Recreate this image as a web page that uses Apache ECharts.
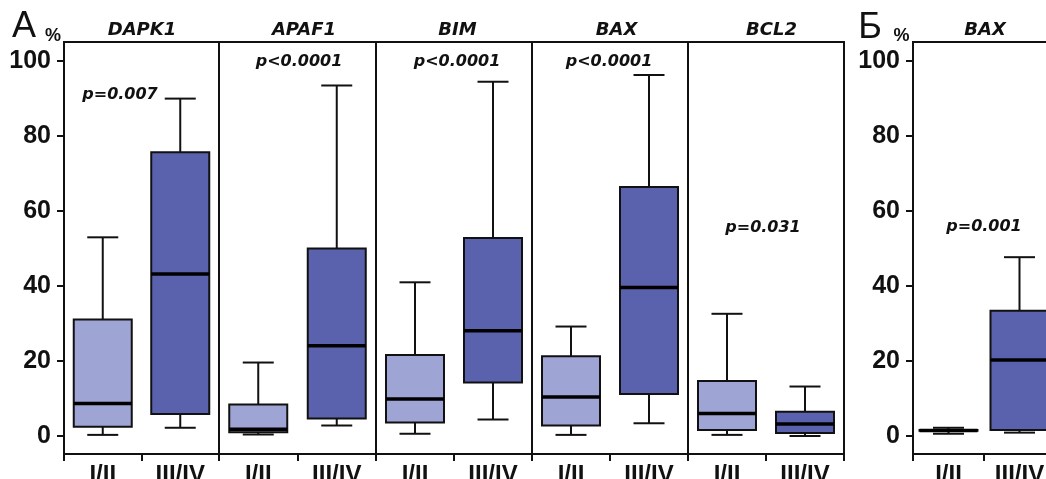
<!DOCTYPE html>
<html><head><meta charset="utf-8">
<script src="https://cdn.jsdelivr.net/npm/echarts@6/dist/echarts.min.js"></script>
<style>html,body{margin:0;padding:0;background:#fff}#c{width:1046px;height:479px}</style>
</head><body><div id="c"></div>
<script>
// ---- data ----
const categories = ['I/II', 'III/IV'];
const genesA = ['DAPK1', 'APAF1', 'BIM', 'BAX', 'BCL2'];
const geneB = 'BAX';
const yTicks = [0, 20, 40, 60, 80, 100];
// each group: [min, Q1, median, Q3, max]
const DAPK1 = [[0.3, 2.5, 8.7, 31.1, 53.0], [2.2, 5.9, 43.2, 75.7, 90.0]];
const APAF1 = [[0.4, 1.0, 1.8, 8.4, 19.6], [2.8, 4.7, 24.1, 50.0, 93.5]];
const BIM   = [[0.6, 3.6, 9.9, 21.6, 41.0], [4.4, 14.3, 28.1, 52.8, 94.5]];
const BAX   = [[0.3, 2.8, 10.4, 21.3, 29.2], [3.4, 11.2, 39.6, 66.4, 96.3]];
const BCL2  = [[0.3, 1.6, 6.0, 14.7, 32.6], [0.0, 0.8, 3.2, 6.5, 13.2]];
const BAX_B = [[0.6, 1.4, 1.5, 1.6, 2.2], [0.9, 1.6, 20.3, 33.4, 47.7]];
const pValuesA = ['p=0.007', 'p<0.0001', 'p<0.0001', 'p<0.0001', 'p=0.031'];
const pValueB = 'p=0.001';

// ---- layout / style ----
const panelEdges = [64, 219, 376, 532, 688, 844];
const gridTop = 42, gridHeight = 412;
const bLeft = 913, bWidth = 142;
const Y_MIN = -4.8, Y_MAX = 105.1;
const LIGHT = '#9ea4d3', DARK = '#5a62ad', INK = '#111';
const NUM_FONT = "'Liberation Sans Narrow', 'Liberation Sans', Arial, sans-serif";
const TXT_FONT = "'DejaVu Sans', sans-serif";

const allA = [DAPK1, APAF1, BIM, BAX, BCL2];

function renderBox(params, api) {
  const c = api.value(0);
  const pMin = api.coord([c, api.value(1)]);
  const pQ1 = api.coord([c, api.value(2)]);
  const pMed = api.coord([c, api.value(3)]);
  const pQ3 = api.coord([c, api.value(4)]);
  const pMax = api.coord([c, api.value(5)]);
  const x = pMin[0];
  const bw = 58, cw = 31;
  const fill = c === 0 ? LIGHT : DARK;
  const ln = { stroke: INK, lineWidth: 2 };
  return {
    type: 'group', children: [
      { type: 'line', shape: { x1: x, y1: pMax[1], x2: x, y2: pQ3[1] }, style: ln },
      { type: 'line', shape: { x1: x, y1: pQ1[1], x2: x, y2: pMin[1] }, style: ln },
      { type: 'line', shape: { x1: x - cw / 2, y1: pMax[1], x2: x + cw / 2, y2: pMax[1] }, style: ln },
      { type: 'line', shape: { x1: x - cw / 2, y1: pMin[1], x2: x + cw / 2, y2: pMin[1] }, style: ln },
      { type: 'rect', shape: { x: x - bw / 2, y: pQ3[1], width: bw, height: pQ1[1] - pQ3[1] }, style: { fill: fill, stroke: INK, lineWidth: 2 } },
      { type: 'line', shape: { x1: x - bw / 2, y1: pMed[1], x2: x + bw / 2, y2: pMed[1] }, style: { stroke: '#000', lineWidth: 3.5 } }
    ]
  };
}

const grids = [], xAxes = [], yAxes = [], series = [];
function addPanel(i, left, width, groups, showY) {
  grids.push({ left: left, top: gridTop, width: width, height: gridHeight, show: true, borderColor: INK, borderWidth: 2, containLabel: false, outerBoundsMode: 'none' });
  xAxes.push({
    type: 'category', gridIndex: i, data: categories, boundaryGap: true,
    axisLine: { show: true, onZero: false, lineStyle: { color: INK, width: 2 } },
    axisTick: { show: true, length: 7, lineStyle: { color: INK, width: 2 } },
    axisLabel: { interval: 0, fontFamily: NUM_FONT, fontWeight: 'bold', fontSize: 24, color: INK, margin: 9 }
  });
  yAxes.push({
    type: 'value', gridIndex: i, min: Y_MIN, max: Y_MAX, show: showY,
    splitLine: { show: false },
    axisLine: { show: true, onZero: false, lineStyle: { color: INK, width: 2 } },
    axisTick: { show: true, length: 7, customValues: yTicks, lineStyle: { color: INK, width: 2 } },
    axisLabel: { customValues: yTicks, fontFamily: NUM_FONT, fontWeight: 'bold', fontSize: 25, color: INK, margin: 13 }
  });
  series.push({
    type: 'custom', xAxisIndex: i, yAxisIndex: i, renderItem: renderBox,
    encode: { x: 0, y: [1, 2, 3, 4, 5] },
    data: groups.map((g, k) => [k].concat(g))
  });
}
allA.forEach((groups, i) => addPanel(i, panelEdges[i], panelEdges[i + 1] - panelEdges[i], groups, i === 0));
addPanel(5, bLeft, bWidth, BAX_B, true);

const titlePos = [[142, 30.5], [304, 30.5], [457.5, 30.5], [616.5, 30.5], [771.5, 30.5]];
const titleBPos = [985, 30.5];
const pPos = [[120, 95], [299, 62], [457, 62], [609, 62], [763, 227.5]];
const pBPos = [984, 227];

const graphics = [];
function txt(text, x, y, font, align) {
  graphics.push({ type: 'text', x: x, y: y, silent: true, style: { text: text, font: font, fill: INK, align: align || 'center', verticalAlign: 'middle' } });
}
txt('А', 12, 27, "36px 'Liberation Sans', Arial, sans-serif", 'left');
txt('%', 53, 36, "bold 18px 'Liberation Sans', Arial, sans-serif");
txt('Б', 870, 28.5, "36px 'Liberation Sans', Arial, sans-serif");
txt('%', 901.5, 36, "bold 18px 'Liberation Sans', Arial, sans-serif");
genesA.forEach((g, i) => txt(g, titlePos[i][0], titlePos[i][1], "italic bold 18px " + TXT_FONT));
txt(geneB, titleBPos[0], titleBPos[1], "italic bold 18px " + TXT_FONT);
pValuesA.forEach((p, i) => txt(p, pPos[i][0], pPos[i][1], "italic bold 16px " + TXT_FONT));
txt(pValueB, pBPos[0], pBPos[1], "italic bold 16px " + TXT_FONT);

const chart = echarts.init(document.getElementById('c'), null, { renderer: 'canvas' });
chart.setOption({
  animation: false,
  backgroundColor: '#fff',
  grid: grids, xAxis: xAxes, yAxis: yAxes, series: series,
  graphic: graphics
});
</script></body></html>
